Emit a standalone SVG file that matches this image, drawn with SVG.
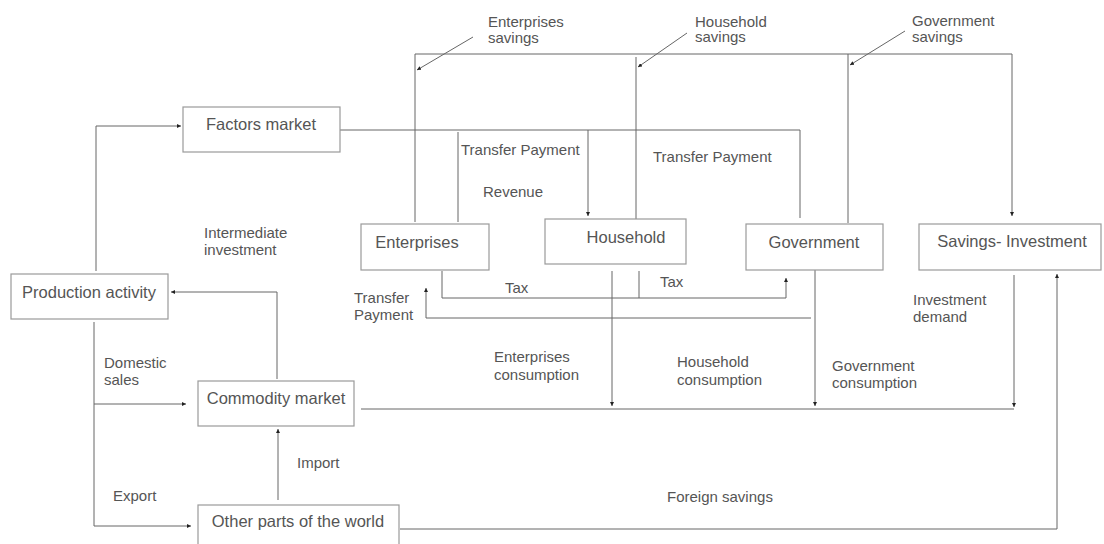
<svg xmlns="http://www.w3.org/2000/svg" width="1104" height="544" viewBox="0 0 1104 544">
  <style>
    .box { fill: #ffffff; stroke: #9a9a9a; stroke-width: 1.2; }
    .name { font-family: "Liberation Sans", Arial, Helvetica, sans-serif; font-size: 16.5px; fill: #555555; }
    .lbl { font-family: "Liberation Sans", Arial, Helvetica, sans-serif; font-size: 15px; fill: #555555; }
    .wire { fill: none; stroke: #666666; stroke-width: 1; }
  </style>
  <defs>
    <marker id="tip" viewBox="0 0 6 6" refX="6" refY="3" markerWidth="4" markerHeight="4" markerUnits="userSpaceOnUse" orient="auto">
      <path d="M0,0 L6,3 L0,6 Z" fill="#222222"/>
    </marker>
  </defs>
  <rect width="1104" height="544" fill="#ffffff"/>

  <!-- connectors -->
  <g id="connectors">
    <!-- savings collector along the top -->
    <path class="wire" d="M415,222 V54 H1012 V216" marker-end="url(#tip)"/>
    <path class="wire" d="M636,221 V57"/>
    <path class="wire" d="M848,223 V54"/>
    <!-- savings pointers -->
    <path class="wire" d="M473,37 L417,70" marker-end="url(#tip)"/>
    <path class="wire" d="M687,33 L638,67" marker-end="url(#tip)"/>
    <path class="wire" d="M905,31 L850,65" marker-end="url(#tip)"/>
    <!-- factors market distribution -->
    <path class="wire" d="M340,130 H800 V218"/>
    <path class="wire" d="M458,132 V222"/>
    <path class="wire" d="M588,130 V216" marker-end="url(#tip)"/>
    <!-- production to factors market -->
    <path class="wire" d="M96,271 V126 H181" marker-end="url(#tip)"/>
    <!-- intermediate investment -->
    <path class="wire" d="M277,379 V292 H171" marker-end="url(#tip)"/>
    <!-- domestic sales and export -->
    <path class="wire" d="M94,322 V526 H191" marker-end="url(#tip)"/>
    <path class="wire" d="M94,404 H186" marker-end="url(#tip)"/>
    <!-- import -->
    <path class="wire" d="M278,500 V429" marker-end="url(#tip)"/>
    <!-- taxes -->
    <path class="wire" d="M442,271 V298 H786 V278" marker-end="url(#tip)"/>
    <path class="wire" d="M639,271 V298"/>
    <!-- government transfer payment -->
    <path class="wire" d="M811,318 H426 V288" marker-end="url(#tip)"/>
    <!-- consumption and investment demand -->
    <path class="wire" d="M361,409 H1014"/>
    <path class="wire" d="M612,271 V406" marker-end="url(#tip)"/>
    <path class="wire" d="M815,270 V406" marker-end="url(#tip)"/>
    <path class="wire" d="M1014,275 V407" marker-end="url(#tip)"/>
    <!-- foreign savings -->
    <path class="wire" d="M400,529 H1057 V274" marker-end="url(#tip)"/>
  </g>

  <!-- nodes -->
  <g id="factors-market">
    <rect class="box" x="183" y="107" width="157" height="45"/>
    <text class="name" x="261" y="130" text-anchor="middle">Factors market</text>
  </g>
  <g id="enterprises">
    <rect class="box" x="361" y="224" width="128" height="46"/>
    <text class="name" x="417" y="248" text-anchor="middle">Enterprises</text>
  </g>
  <g id="household">
    <rect class="box" x="545" y="219" width="141" height="45"/>
    <text class="name" x="626" y="243" text-anchor="middle">Household</text>
  </g>
  <g id="government">
    <rect class="box" x="746" y="224" width="137" height="46"/>
    <text class="name" x="814" y="248" text-anchor="middle">Government</text>
  </g>
  <g id="savings-investment">
    <rect class="box" x="919" y="224" width="182" height="46"/>
    <text class="name" x="1012" y="247" text-anchor="middle">Savings- Investment</text>
  </g>
  <g id="production-activity">
    <rect class="box" x="11" y="274" width="157" height="45"/>
    <text class="name" x="89" y="298" text-anchor="middle">Production activity</text>
  </g>
  <g id="commodity-market">
    <rect class="box" x="198" y="381" width="156" height="45"/>
    <text class="name" x="276" y="404" text-anchor="middle">Commodity market</text>
  </g>
  <g id="other-parts-of-the-world">
    <rect class="box" x="198" y="505" width="201" height="50"/>
    <text class="name" x="298" y="527" text-anchor="middle">Other parts of the world</text>
  </g>

  <!-- flow labels -->
  <g id="labels">
    <text class="lbl" x="488" y="27">Enterprises</text>
    <text class="lbl" x="488" y="43">savings</text>
    <text class="lbl" x="695" y="27">Household</text>
    <text class="lbl" x="695" y="42">savings</text>
    <text class="lbl" x="912" y="26">Government</text>
    <text class="lbl" x="912" y="42">savings</text>
    <text class="lbl" x="461" y="155">Transfer Payment</text>
    <text class="lbl" x="653" y="162">Transfer Payment</text>
    <text class="lbl" x="483" y="197">Revenue</text>
    <text class="lbl" x="204" y="238">Intermediate</text>
    <text class="lbl" x="204" y="255">investment</text>
    <text class="lbl" x="505" y="293">Tax</text>
    <text class="lbl" x="660" y="287">Tax</text>
    <text class="lbl" x="354" y="303">Transfer</text>
    <text class="lbl" x="354" y="320">Payment</text>
    <text class="lbl" x="913" y="305">Investment</text>
    <text class="lbl" x="913" y="322">demand</text>
    <text class="lbl" x="494" y="362">Enterprises</text>
    <text class="lbl" x="494" y="380">consumption</text>
    <text class="lbl" x="677" y="367">Household</text>
    <text class="lbl" x="677" y="385">consumption</text>
    <text class="lbl" x="832" y="371">Government</text>
    <text class="lbl" x="832" y="388">consumption</text>
    <text class="lbl" x="104" y="368">Domestic</text>
    <text class="lbl" x="104" y="385">sales</text>
    <text class="lbl" x="297" y="468">Import</text>
    <text class="lbl" x="113" y="501">Export</text>
    <text class="lbl" x="667" y="502">Foreign savings</text>
  </g>
</svg>
